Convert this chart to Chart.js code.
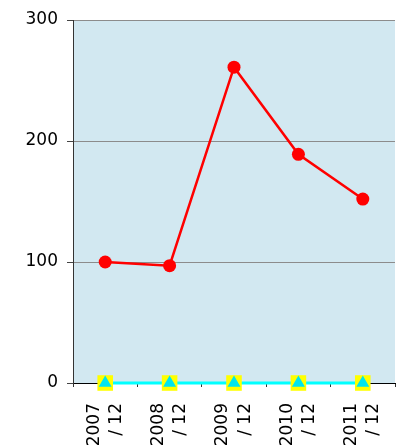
<!DOCTYPE html>
<html>
  <head>
    <meta charset="utf-8">
    <title>Chart</title>
    <script src="https://cdn.jsdelivr.net/npm/chart.js@4.4.1/dist/chart.umd.min.js"></script>
    <style>
      html, body { margin: 0; padding: 0; background: #fff; overflow: hidden; }
      canvas { display: block; }
    </style>
  </head>
  <body>
    <canvas id="gr1" width="406" height="447" style="width:406px;height:447px"></canvas>
    <script>

// data
const categories = [["2007", "/ 12"], ["2008", "/ 12"], ["2009", "/ 12"], ["2010", "/ 12"], ["2011", "/ 12"]];
const mainValues = [100, 97, 261, 189, 152];
const baseValues = [0, 0, 0, 0, 0];
const yTicks = [0, 100, 200, 300];

const plotBg = {
  id: "plotBg",
  beforeDraw(chart) {
    const a = chart.chartArea;
    const c = chart.ctx;
    c.save();
    c.fillStyle = "#D2E8F1";
    c.fillRect(a.left, a.top, a.right - a.left, a.bottom - a.top);
    c.restore();
  }
};

let config = {
  type: "line",
  data: {
    labels: categories,
    datasets: [
      {
        data: mainValues,
        order: 1,
        borderColor: "#FF0000",
        backgroundColor: "#FF0000",
        borderWidth: 2.5,
        pointRadius: 6.5,
        pointHoverRadius: 6.5,
        pointBorderWidth: 0,
        tension: 0,
        fill: false,
        clip: false
      },
      {
        data: baseValues,
        order: 3,
        borderColor: "#00FFFF",
        backgroundColor: "#FFFF00",
        borderWidth: 3,
        pointStyle: "rect",
        pointRadius: 11,
        pointHoverRadius: 11,
        pointBorderWidth: 0,
        tension: 0,
        fill: false,
        clip: false
      },
      {
        data: baseValues,
        order: 2,
        showLine: false,
        backgroundColor: "#00E5EE",
        pointStyle: "triangle",
        pointRadius: 7.5,
        pointHoverRadius: 7.5,
        pointBorderWidth: 0,
        clip: false
      }
    ]
  },
  options: {
    responsive: false,
    animation: false,
    devicePixelRatio: 1,
    events: [],
    layout: { padding: { left: 0, right: 0, top: 20, bottom: 0 } },
    plugins: {
      legend: { display: false },
      tooltip: { enabled: false },
      title: { display: false }
    },
    scales: {
      x: {
        offset: true,
        afterFit: function (s) {
          s.height = 64;
          s.paddingLeft = 0;
          s.paddingRight = 0;
        },
        grid: {
          offset: true,
          drawOnChartArea: false,
          drawTicks: true,
          tickLength: 4,
          tickColor: "#333333"
        },
        border: { color: "#000000", width: 1 },
        ticks: {
          autoSkip: false,
          minRotation: 90,
          maxRotation: 90,
          padding: 16,
          labelOffset: -11,
          color: "#000000",
          font: { family: "DejaVu Sans", size: 17, lineHeight: 1.3 }
        }
      },
      y: {
        min: 0,
        max: 300,
        afterFit: function (s) {
          s.width = 73;
          s.paddingTop = 0;
        },
        afterBuildTicks: function (s) { s.ticks = yTicks.map(v => ({ value: v })); },
        grid: {
          color: "#8C8C8C",
          lineWidth: 1,
          tickLength: 6,
          tickColor: "#444444"
        },
        border: { color: "#333333", width: 1 },
        ticks: {
          padding: 9,
          color: "#000000",
          font: { family: "DejaVu Sans", size: 17 }
        }
      }
    }
  },
  plugins: [plotBg]
};

var canv = document.getElementById('gr1');
var ctx = canv.getContext('2d');
let graph1 = new Chart(ctx, config);
    </script>
  </body>
</html>
